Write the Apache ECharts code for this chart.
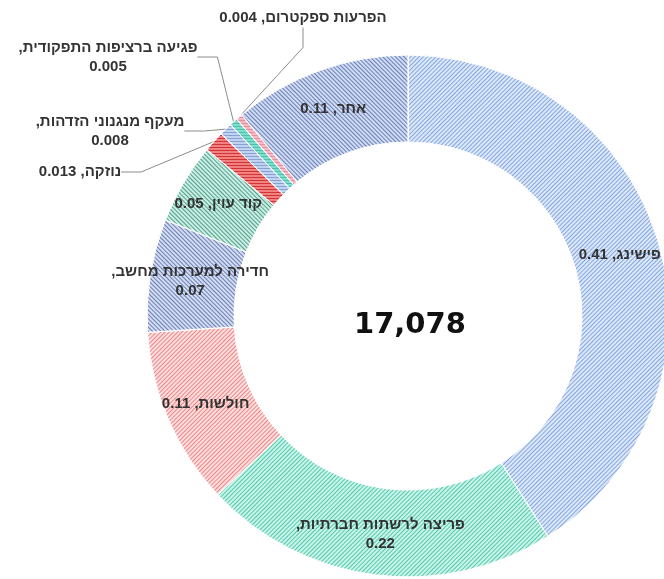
<!DOCTYPE html>
<html>
<head>
<meta charset="utf-8">
<script src="https://cdn.jsdelivr.net/npm/echarts@6/dist/echarts.min.js"></script>
<style>
  html, body { margin: 0; padding: 0; background: #fff; }
  #chartPie { width: 664px; height: 579px; }
</style>
</head>
<body>
<div id="chartPie"></div>
<script>
// נתונים
var categories = [
  "פישינג",
  "פריצה לרשתות חברתיות",
  "חולשות",
  "חדירה למערכות מחשב",
  "קוד עוין",
  "נוזקה",
  "מעקף מנגנוני הזדהות",
  "פגיעה ברציפות התפקודית",
  "הפרעות ספקטרום",
  "אחר"
];
var values = [0.41, 0.22, 0.11, 0.07, 0.05, 0.013, 0.008, 0.005, 0.004, 0.11];
var totalText = "17,078";

// labels that break onto a second line
var twoLineLabels = ["פריצה לרשתות חברתיות", "חדירה למערכות מחשב", "מעקף מנגנוני הזדהות", "פגיעה ברציפות התפקודית"];
// small slices: label sits outside, with a leader line
var outsideLabels = {
  "נוזקה": [80, 172],
  "מעקף מנגנוני הזדהות": [110, 131],
  "פגיעה ברציפות התפקודית": [108, 57],
  "הפרעות ספקטרום": [303, 18]
};

var sliceStyles = [
  { color: "#dce8f8", stripe: "rgba(110,150,215,0.8)", rot: -1 },
  { color: "#c9f4e9", stripe: "rgba(50,185,155,0.75)", rot: -1 },
  { color: "#fcdede", stripe: "rgba(230,105,105,0.75)", rot: -1 },
  { color: "#d2ddf4", stripe: "rgba(55,75,140,0.65)", rot: 1 },
  { color: "#c6f0e3", stripe: "rgba(35,110,95,0.65)", rot: 1 },
  { color: "#f28282", stripe: "rgba(200,35,35,0.8)", rot: 0 },
  { color: "#c0d3f1", stripe: "rgba(80,110,180,0.5)", rot: 0 },
  { color: "#7ddfcd", stripe: "rgba(20,140,120,0.4)", rot: 0 },
  { color: "#f6bac6", stripe: "rgba(200,80,100,0.4)", rot: 0 },
  { color: "#cfdbf4", stripe: "rgba(55,80,145,0.65)", rot: 1 }
];

function rtl(s) {
  return "\u202B" + s + "\u202C";
}

var chartPie = echarts.init(document.getElementById("chartPie"));

var pieData = categories.map(function (name, i) {
  var st = sliceStyles[i];
  var outside = outsideLabels.hasOwnProperty(name);
  return {
    name: name,
    value: values[i],
    itemStyle: {
      color: st.color,
      decal: {
        symbol: "rect",
        symbolSize: 1,
        dashArrayX: [1, 0],
        dashArrayY: [1, 2],
        rotation: st.rot * Math.PI / 4,
        color: st.stripe
      }
    },
    label: {
      position: outside ? "outside" : "inside"
    },
    labelLine: {
      show: outside
    }
  };
});

var option = {
  backgroundColor: "#fff",
  animation: false,
  graphic: [
    {
      type: "text",
      left: 408 - 54,
      top: 311,
      style: {
        text: totalText,
        fill: "#111",
        font: "bold 29px 'DejaVu Sans', Verdana, sans-serif"
      }
    }
  ],
  series: [
    {
      type: "pie",
      center: [408, 316],
      radius: [174, 261],
      startAngle: 90,
      clockwise: true,
      avoidLabelOverlap: false,
      itemStyle: {
        borderColor: "#fff",
        borderWidth: 1
      },
      label: {
        color: "#333",
        fontSize: 15,
        fontWeight: "bold",
        fontFamily: "'Liberation Sans', 'DejaVu Sans', sans-serif",
        lineHeight: 19,
        align: "center",
        formatter: function (p) {
          if (twoLineLabels.indexOf(p.name) >= 0) {
            return rtl(p.name + ",") + "\n" + rtl(String(p.value));
          }
          return rtl(p.name + ", " + p.value);
        }
      },
      labelLine: {
        length: 10,
        length2: 20,
        lineStyle: { color: "#8c8c8c", width: 1 }
      },
      labelLayout: function (params) {
        var name = categories[params.dataIndex];
        var pos = outsideLabels[name];
        if (!pos) return {};
        return { x: pos[0], y: pos[1], align: "center", verticalAlign: "middle" };
      },
      data: pieData
    }
  ]
};

chartPie.setOption(option);
</script>
</body>
</html>
